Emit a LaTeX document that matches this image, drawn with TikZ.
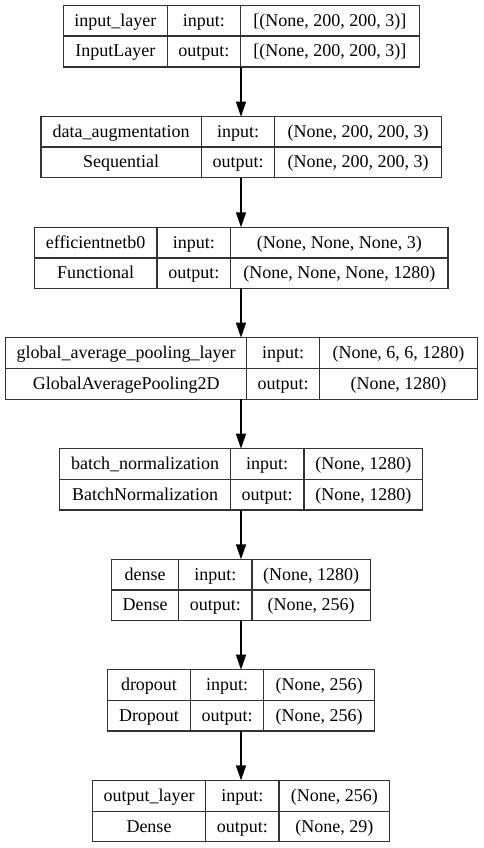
\documentclass[tikz,border=0pt]{standalone}
\usepackage{fontspec}
\setmainfont{Liberation Serif}
\newfontfamily\kfont{Liberation Serif}
\usetikzlibrary{arrows.meta}
\newcommand\kgeom[7]{\def\gL{#1}\def\gA{#2}\def\gB{#3}\def\gR{#4}\def\gT{#5}\def\gM{#6}\def\gD{#7}}
\newcommand\kcell[6]{\node[kcell, minimum width={(#4-#2)*1pt}, minimum height={(#5-#3)*1pt}] (#1) at ({(#2+#4)/2},{(#3+#5)/2}) {#6};}
\newcommand\krows[5]{%
  \kcell{#1-n1}{\gL}{\gT}{\gA}{\gM}{#2}
  \kcell{#1-n2}{\gL}{\gM}{\gA}{\gD}{#3}
  \kcell{#1-i1}{\gA}{\gT}{\gB}{\gM}{input:}
  \kcell{#1-i2}{\gA}{\gM}{\gB}{\gD}{output:}
  \kcell{#1-s1}{\gB}{\gT}{\gR}{\gM}{#4}
  \kcell{#1-s2}{\gB}{\gM}{\gR}{\gD}{#5}
  \draw[kline] (#1-n1.north west) rectangle (#1-s2.south east);
  \draw[kline] (#1-n1.south west) -- (#1-s1.south east);
  \draw[kline] (#1-i1.north west) -- (#1-i2.south west);
  \draw[kline] (#1-s1.north west) -- (#1-s2.south west);}
\tikzset{
  kcell/.style={rectangle, inner sep=0pt, outer sep=0pt,
    font=\kfont\fontsize{18}{20}\selectfont, text height=14pt, text depth=3pt, align=center},
  kline/.style={draw=black!80, line width=1.4pt},
  karrow/.style={draw=black, line width=1.4pt, -{Triangle[length=15pt,width=10pt]}}
}
\begin{document}
\begin{tikzpicture}[x=1pt,y=-1pt]
\useasboundingbox (0,0) rectangle (483,848);
\fill[white] (0,0) rectangle (483,848);
\coordinate (ax) at (241,0);
\kgeom{63.3}{167.3}{240.3}{419.3}{5.7}{36}{67}
\krows{b1}{input\_layer}{InputLayer}{[(None, 200, 200, 3)]}{[(None, 200, 200, 3)]}
\kgeom{41}{201.3}{274.7}{441.7}{116.7}{147}{177.7}
\krows{b2}{data\_augmentation}{Sequential}{(None, 200, 200, 3)}{(None, 200, 200, 3)}
\kgeom{34.3}{157}{230.7}{448}{227.3}{258}{288.3}
\krows{b3}{efficientnetb0}{Functional}{(None, None, None, 3)}{(None, None, None, 1280)}
\kgeom{5.7}{246.7}{319.7}{477.3}{337.7}{368.7}{399.3}
\krows{b4}{global\_average\_pooling\_layer}{GlobalAveragePooling2D}{(None, 6, 6, 1280)}{(None, 1280)}
\kgeom{59.7}{230.3}{304}{422.7}{448.7}{479.3}{510}
\krows{b5}{batch\_normalization}{BatchNormalization}{(None, 1280)}{(None, 1280)}
\kgeom{111.7}{178.7}{252}{370.3}{559.3}{590}{620.7}
\krows{b6}{dense}{Dense}{(None, 1280)}{(None, 256)}
\kgeom{107.7}{190.3}{263.7}{374.7}{669.7}{700.3}{731}
\krows{b7}{dropout}{Dropout}{(None, 256)}{(None, 256)}
\kgeom{92.3}{205.7}{279}{389.7}{780.3}{811.3}{841.7}
\krows{b8}{output\_layer}{Dense}{(None, 256)}{(None, 29)}
\draw[karrow] (b1-i2.south -| ax) -- (b2-i1.north -| ax);
\draw[karrow] (b2-i2.south -| ax) -- (b3-i1.north -| ax);
\draw[karrow] (b3-i2.south -| ax) -- (b4-i1.north -| ax);
\draw[karrow] (b4-i2.south -| ax) -- (b5-i1.north -| ax);
\draw[karrow] (b5-i2.south -| ax) -- (b6-i1.north -| ax);
\draw[karrow] (b6-i2.south -| ax) -- (b7-i1.north -| ax);
\draw[karrow] (b7-i2.south -| ax) -- (b8-i1.north -| ax);
\end{tikzpicture}
\end{document}
